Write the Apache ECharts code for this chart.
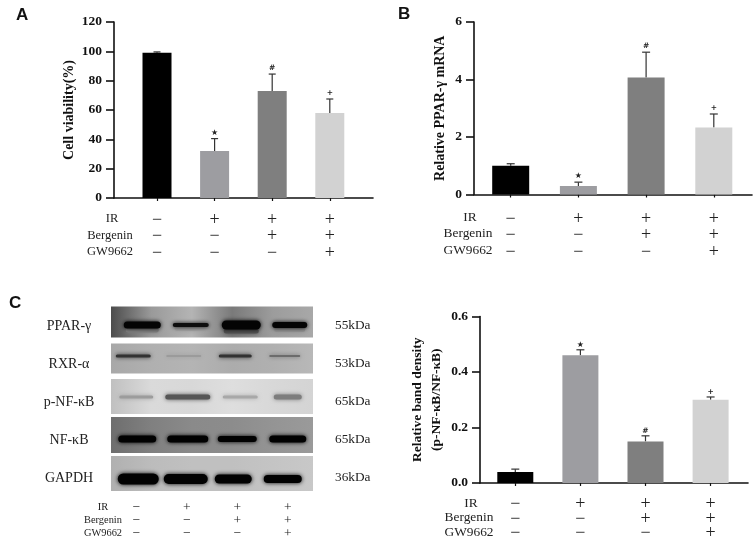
<!DOCTYPE html>
<html><head><meta charset="utf-8">
<style>html,body{margin:0;padding:0;background:#fff}#c{width:753px;height:537px}</style>
<script src="https://cdn.jsdelivr.net/npm/echarts@6/dist/echarts.min.js"></script>
</head><body><div id="c"></div>
<script>
// ---- data ----
const irRow = ['−', '+', '+', '+'];
const bergeninRow = ['−', '−', '+', '+'];
const gwRow = ['−', '−', '−', '+'];
const rowNames = ['IR', 'Bergenin', 'GW9662'];
const groupPositions = [0, 1, 2, 3];
const sigMarks = ['', '★', '#', '+'];

const viabilityMeans = [99, 32, 73, 58];
const viabilityUpper = [99.6, 40.5, 84.5, 67.5];
const pparMeans = [1.0, 0.3, 4.07, 2.33];
const pparUpper = [1.07, 0.43, 4.95, 2.8];
const densityMeans = [0.04, 0.46, 0.15, 0.3];
const densityUpper = [0.05, 0.48, 0.17, 0.31];

const proteins = ['PPAR-γ', 'RXR-α', 'p-NF-κB', 'NF-κB', 'GAPDH'];
const weights = ['55kDa', '53kDa', '65kDa', '65kDa', '36kDa'];
const lanes = ['1', '2', '3', '4'];
const blotIntensity = [
  [0.98, 0.92, 0.98, 0.98],
  [0.72, 0.14, 0.72, 0.4],
  [0.28, 0.6, 0.22, 0.42],
  [0.99, 0.99, 0.99, 0.99],
  [0.99, 0.99, 0.99, 0.99]
];
const pparLowerBand = [0.3, 0.12, 0.55, 0.2];

// ---- styling / layout ----
const barColors = ['#000000', '#9d9da1', '#7f7f7f', '#d2d2d2'];
const serif = '"Liberation Serif", serif';
const blotBackground = [
  ['#4c4c4c', '#9a9a9a', '#b4b4b4', '#7a7a7a', '#9c9c9c', '#a8a8a8'],
  ['#a8a8a8', '#b0b0b0', '#b4b4b4', '#acacac', '#b0b0b0', '#b8b8b8'],
  ['#c0c0c0', '#dadada', '#d8d8d8', '#dedede', '#d8d8d8', '#d4d4d4'],
  ['#6e6e6e', '#808080', '#8a8a8a', '#8c8c8c', '#949494', '#9a9a9a'],
  ['#b0b0b0', '#bcbcbc', '#c0c0c0', '#c0c0c0', '#c4c4c4', '#c8c8c8']
];
const blotRowShift = [-4, -5.5, -5.5, -5, -4.5];
const blotRowHeight = [31, 30, 35, 36, 35];
const bandShift = [-1, -8, -5, -1, 1];
const bandWidths = [[37, 36, 39, 35], [35, 35, 33, 31], [34, 45, 35, 28], [38, 41, 39, 37], [41, 44, 37, 38]];
const bandThick = [[7, 4, 9, 6], [3, 2, 3, 2], [3, 5, 3, 5], [7, 7, 6, 7], [11, 10, 9, 8]];
const laneShift = [[6, 4, 4, 2], [-3, -3, -2, -3], [0, 1, 3, 0], [1, 1, 0, 0], [2, -1, -4, -5]];

const panels = [
  { means: viabilityMeans, upper: viabilityUpper, max: 120, step: 20, digits: 0, name: 'Cell viability(%)', nameGap: 35, nameSize: 14,
    left: 114, top: 22, w: 259, h: 176, unit: 57.6, c0: 157, barW: 29, cap: 7, fs: 13.5, lh: 16.5, rowSize: 12.5, rowX: 110, rowY: 219, margin: 14, markGap: 6 },
  { means: pparMeans, upper: pparUpper, max: 6, step: 2, digits: 0, name: 'Relative PPAR-γ mRNA', nameGap: 24, nameSize: 14,
    left: 474, top: 22, w: 278, h: 172.5, unit: 67.7, c0: 510.7, barW: 37, cap: 8, fs: 13.5, lh: 16.5, rowSize: 13.4, rowX: 468, rowY: 217, margin: 16.5, markGap: 6 },
  { means: densityMeans, upper: densityUpper, max: 0.6, step: 0.2, digits: 1, name: 'Relative band density\n(p-NF-κB/NF-κB)', nameGap: 34, nameSize: 13.5,
    left: 480, top: 316.5, w: 268, h: 166.5, unit: 65.1, c0: 515.3, barW: 36, cap: 8, fs: 13.5, lh: 14.7, rowSize: 13.4, rowX: 469, rowY: 503, margin: 14, markGap: 5 }
];

const grid = [], xAxis = [], yAxis = [], series = [], graphic = [];

panels.forEach((p, i) => {
  grid.push({ left: p.left, top: p.top, width: p.w, height: p.h, outerBoundsMode: 'none' });
  const line = { show: true, onZero: false, lineStyle: { color: '#111', width: 1.6 } };
  xAxis.push({
    type: 'value', gridIndex: i, splitLine: { show: false },
    min: (p.left - p.c0) / p.unit, max: (p.left + p.w - p.c0) / p.unit,
    axisLine: line,
    axisTick: { show: true, length: 3, customValues: groupPositions, lineStyle: { color: '#111', width: 1.2 } },
    axisLabel: {
      show: true, customValues: groupPositions, margin: p.margin, hideOverlap: false,
      showMinLabel: true, showMaxLabel: true,
      fontFamily: serif, fontSize: 18, color: '#222', lineHeight: p.lh,
      formatter: v => [irRow[v], bergeninRow[v], gwRow[v]].join('\n')
    }
  });
  yAxis.push({
    type: 'value', gridIndex: i, min: 0, max: p.max, interval: p.step, splitLine: { show: false },
    axisLine: line,
    axisTick: { show: true, length: 8, lineStyle: { color: '#111', width: 1.6 } },
    axisLabel: { margin: 12, fontFamily: serif, fontWeight: 'bold', fontSize: p.fs, color: '#111', formatter: v => v.toFixed(p.digits) },
    name: p.name, nameLocation: 'middle', nameGap: p.nameGap, nameRotate: 90, nameMoveOverlap: false,
    nameTextStyle: { fontFamily: serif, fontWeight: 'bold', fontSize: p.nameSize, color: '#111', lineHeight: 19 }
  });
  series.push({
    type: 'bar', xAxisIndex: i, yAxisIndex: i, barWidth: p.barW, silent: true,
    data: p.means.map((m, k) => ({ value: [groupPositions[k], m], itemStyle: { color: barColors[k] } }))
  });
  series.push({
    type: 'custom', xAxisIndex: i, yAxisIndex: i, silent: true, clip: false, z: 1,
    data: p.means.map((m, k) => [groupPositions[k], m, p.upper[k]]),
    encode: { x: 0, y: [1, 2] },
    renderItem(params, api) {
      const a = api.coord([api.value(0), api.value(1)]);
      const b = api.coord([api.value(0), api.value(2)]);
      const st = { stroke: '#333', lineWidth: 1.2 };
      const mark = sigMarks[params.dataIndex];
      const kids = [
        { type: 'line', shape: { x1: a[0], y1: a[1], x2: b[0], y2: b[1] }, style: st },
        { type: 'line', shape: { x1: b[0] - p.cap / 2, y1: b[1], x2: b[0] + p.cap / 2, y2: b[1] }, style: st }
      ];
      if (mark) kids.push({ type: 'text', style: { x: b[0], y: b[1] - p.markGap, text: mark, align: 'center', verticalAlign: 'middle',
        fontFamily: '"DejaVu Sans"', fontWeight: 'bold', fontSize: mark === '★' ? 8 : 7.5, fill: '#222' } });
      return { type: 'group', children: kids };
    }
  });
  rowNames.forEach((n, r) => graphic.push({ type: 'text', x: n === 'IR' ? p.rowX + 2 : p.rowX, y: p.rowY + r * p.lh,
    style: { text: n, align: 'center', verticalAlign: 'middle', fontFamily: serif, fontSize: p.rowSize, fill: '#222' } }));
});

// ---- blot panel ----
const bi = panels.length;
grid.push({ left: 111, top: 307, width: 202, height: 190, outerBoundsMode: 'none' });
xAxis.push({
  type: 'category', gridIndex: bi, data: lanes, axisLine: { show: false }, axisTick: { show: false }, splitLine: { show: false },
  axisLabel: { margin: 4, interval: 0, fontFamily: serif, fontSize: 13.5, color: '#222', lineHeight: 13,
    formatter: (v, k) => [irRow[k], bergeninRow[k], gwRow[k]].join('\n') }
});
const blotAxis = (names, pos, extra) => Object.assign({
  type: 'category', gridIndex: bi, data: names, inverse: true, position: pos,
  axisLine: { show: false }, axisTick: { show: false }, splitLine: { show: false }
}, extra);
yAxis.push(blotAxis(proteins, 'left', { axisLabel: { margin: 42, align: 'center', fontFamily: serif, fontSize: 14, color: '#222', interval: 0 } }));
yAxis.push(blotAxis(weights.map((w, i) => i + ':' + w), 'right', { axisLabel: { margin: 22, fontFamily: serif, fontSize: 13.3, color: '#222', interval: 0, formatter: v => v.split(':')[1] } }));

series.push({
  type: 'custom', xAxisIndex: bi, yAxisIndex: bi, silent: true, clip: false,
  data: proteins.map((_, r) => [0, r]), encode: { x: 0, y: 1 },
  renderItem(params, api) {
    const r = params.dataIndex, cs = params.coordSys;
    const cy = api.coord([0, r])[1] + blotRowShift[r], h = blotRowHeight[r];
    const stops = blotBackground[r];
    return { type: 'rect', shape: { x: cs.x, y: cy - h / 2, width: cs.width, height: h },
      style: { fill: new echarts.graphic.LinearGradient(0, 0, 1, 0, stops.map((c, k) => ({ offset: k / (stops.length - 1), color: c }))) } };
  }
});
const blotBands = [];
blotIntensity.forEach((row, r) => row.forEach((v, l) => blotBands.push([l, r, v])));
series.push({
  type: 'custom', xAxisIndex: bi, yAxisIndex: bi, silent: true, clip: false, z: 3,
  data: blotBands, encode: { x: 0, y: 1 },
  renderItem(params, api) {
    const l = api.value(0), r = api.value(1), v = api.value(2);
    const c = api.coord([l, r]);
    const w = bandWidths[r][l], h = bandThick[r][l];
    const base = parseInt(blotBackground[r][2].slice(1, 3), 16);
    const grey = d => { const g = Math.round(base * (1 - d)); return 'rgb(' + g + ',' + g + ',' + g + ')'; };
    const col = grey(v);
    const x = c[0] + laneShift[r][l] - w / 2, y = c[1] + bandShift[r] - h / 2;
    const kids = [];
    if (r === 0) {
      const faint = grey(pparLowerBand[l]);
      kids.push({ type: 'rect', shape: { x: x + 2, y: y + h - 1, width: w - 4, height: 5, r: 2.5 }, style: { fill: faint, shadowBlur: 4, shadowColor: faint } });
    }
    kids.push({ type: 'rect', shape: { x, y, width: w, height: h, r: h / 2 }, style: { fill: col, shadowBlur: 4, shadowColor: col } });
    return { type: 'group', children: kids };
  }
});
rowNames.forEach((n, r) => graphic.push({ type: 'text', x: 103, y: 507.5 + r * 13, style: { text: n, align: 'center', verticalAlign: 'middle', fontFamily: serif, fontSize: 10.4, fill: '#222' } }));

const title = [['A', 16, 7], ['B', 398, 6], ['C', 9, 295]].map(([t, x, y]) => ({
  text: t, left: x, top: y, padding: 0, textStyle: { fontFamily: '"Liberation Sans"', fontWeight: 'bold', fontSize: 17, color: '#111' }
}));

const chart = echarts.init(document.getElementById('c'), null, { renderer: 'canvas' });
chart.setOption({ animation: false, backgroundColor: '#fff', title, grid, xAxis, yAxis, series, graphic });
</script></body></html>
